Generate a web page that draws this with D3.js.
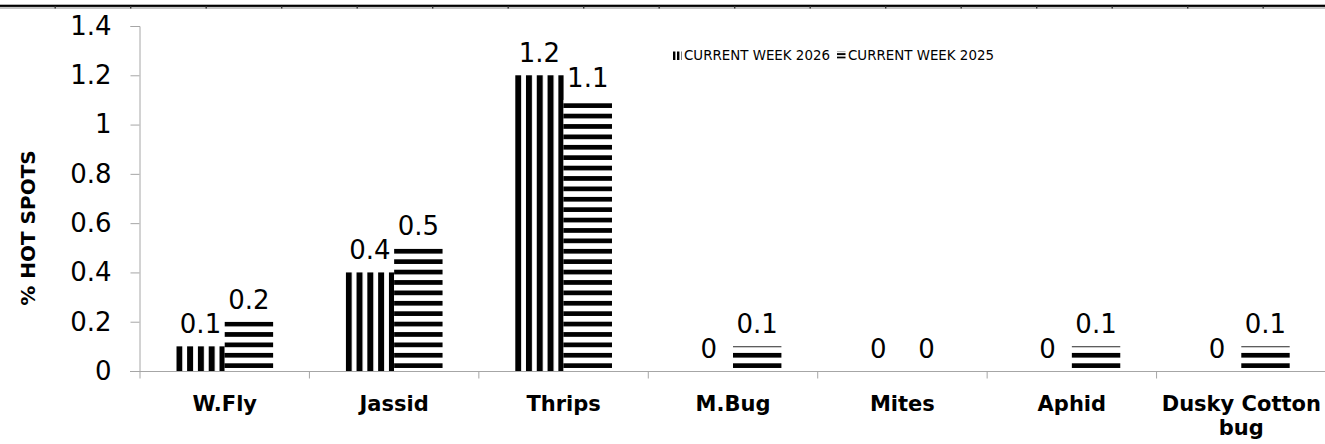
<!DOCTYPE html>
<html>
<head>
<meta charset="utf-8">
<script src="https://cdn.jsdelivr.net/npm/d3@7"></script>
<style>
  body { margin: 0; background: #fff; }
  svg { display: block; font-family: "DejaVu Sans", Verdana, sans-serif; }
</style>
</head>
<body>
<svg width="1325" height="444"></svg>
<script>
const categories = ["W.Fly", "Jassid", "Thrips", "M.Bug", "Mites", "Aphid", "Dusky Cotton bug"];
const week2026 = [0.1, 0.4, 1.2, 0, 0, 0, 0];
const week2025 = [0.2, 0.5, 1.1, 0.1, 0, 0.1, 0.1];
const yTicks = [0, 0.2, 0.4, 0.6, 0.8, 1, 1.2, 1.4];
const keys = ["CURRENT WEEK 2026", "CURRENT WEEK 2025"];

const svg = d3.select("svg");
const W = 1325;

const plot = { left: 140, right: 1326, top: 26, bottom: 371 };

const x0 = d3.scaleBand().domain(categories).range([plot.left, plot.right]).paddingInner(0).paddingOuter(0);
const x1 = d3.scaleBand().domain(keys).range([0, x0.bandwidth()]).paddingInner(0).paddingOuter(0.75);
const y = d3.scaleLinear().domain([0, 1.4]).range([plot.bottom, plot.top]);

const data = categories.map((c, i) => ({ cat: c, values: [week2026[i], week2025[i]] }));

// patterns
const defs = svg.append("defs");
const vp = defs.append("pattern").attr("id", "vert")
  .attr("patternUnits", "userSpaceOnUse").attr("width", 10.8).attr("height", 10);
vp.append("rect").attr("width", 10.8).attr("height", 10).attr("fill", "#fff");
vp.append("rect").attr("width", 6).attr("height", 10).attr("fill", "#000");

const hp = defs.append("pattern").attr("id", "horiz")
  .attr("patternUnits", "userSpaceOnUse").attr("width", 10).attr("height", 10.4)
  .attr("y", (plot.bottom - 7.7) % 10.4);
hp.append("rect").attr("width", 10).attr("height", 10.4).attr("fill", "#fff");
hp.append("rect").attr("width", 10).attr("height", 4.7).attr("fill", "#000");

const vpS = defs.append("pattern").attr("id", "vertSmall")
  .attr("patternUnits", "userSpaceOnUse").attr("width", 4).attr("height", 4);
vpS.append("rect").attr("width", 2.4).attr("height", 4).attr("fill", "#000");
const hpS = defs.append("pattern").attr("id", "horizSmall")
  .attr("patternUnits", "userSpaceOnUse").attr("width", 4).attr("height", 3.4);
hpS.append("rect").attr("width", 4).attr("height", 1.8).attr("fill", "#000");

const fills = ["url(#vert)", "url(#horiz)"];
const smallFills = ["url(#vertSmall)", "url(#horizSmall)"];

// top border decoration
svg.append("rect").attr("x", 0).attr("y", 4.7).attr("width", W).attr("height", 2.2).attr("fill", "#000");
svg.append("line").attr("x1", 0).attr("x2", W).attr("y1", 8).attr("y2", 8)
  .attr("stroke", "#b0b0b0").attr("stroke-width", 1.4);
d3.range(17).forEach(i => {
  svg.append("rect").attr("x", 54.5 + i * 75.5).attr("y", 6).attr("width", 1.4).attr("height", 2.5).attr("fill", "#333");
});

// y axis
const yAxis = svg.append("g")
  .attr("transform", `translate(${plot.left - 0.5},0)`)
  .call(d3.axisLeft(y).tickValues(yTicks).tickFormat(d3.format("~g")).tickSize(9).tickPadding(19));
yAxis.select(".domain").attr("stroke", "#a6a6a6");
yAxis.selectAll(".tick line").attr("stroke", "#a6a6a6");
yAxis.selectAll(".tick text").attr("font-size", 26).attr("fill", "#000")
  .attr("font-family", "DejaVu Sans, sans-serif");

// x axis
const xAxis = svg.append("g").attr("transform", `translate(0,${plot.bottom + 0.5})`);
xAxis.append("line").attr("x1", plot.left - 10).attr("x2", W).attr("stroke", "#a6a6a6");
categories.forEach(c => {
  xAxis.append("line").attr("x1", x0(c)).attr("x2", x0(c)).attr("y1", 0).attr("y2", 7).attr("stroke", "#a6a6a6");
});

// category labels
svg.append("g").selectAll("text")
  .data(categories)
  .enter()
  .append("text")
  .attr("x", d => x0(d) + x0.bandwidth() / 2)
  .attr("y", 411)
  .attr("text-anchor", "middle")
  .attr("font-weight", "bold")
  .attr("font-size", 21)
  .each(function(d) {
    const lines = d === "Dusky Cotton bug" ? ["Dusky Cotton", "bug"] : [d];
    lines.forEach((l, i) => {
      d3.select(this).append("tspan")
        .attr("x", x0(d) + x0.bandwidth() / 2)
        .attr("dy", i === 0 ? 0 : 24)
        .text(l);
    });
  });

// bars
const groups = svg.append("g").selectAll(".cat")
  .data(data)
  .enter()
  .append("g")
  .attr("class", "cat");

groups.each(function(d) {
  const g = d3.select(this);
  keys.forEach((k, i) => {
    const v = d.values[i];
    const bx = x0(d.cat) + x1(k);
    const bar = g.append("g").attr("transform", `translate(${bx},0)`);
    if (v > 0) {
      bar.append("rect")
        .attr("x", 0)
        .attr("y", y(v))
        .attr("width", x1.bandwidth())
        .attr("height", y(0) - y(v))
        .attr("fill", fills[i]);
    }
    bar.append("text")
      .attr("x", x1.bandwidth() / 2)
      .attr("y", y(v) - 13)
      .attr("text-anchor", "middle")
      .attr("font-size", 26)
      .text(d3.format("~g")(v));
  });
});

// y title
svg.append("text")
  .attr("transform", "translate(35,228) rotate(-90)")
  .attr("text-anchor", "middle")
  .attr("font-weight", "bold")
  .attr("font-size", 20)
  .text("% HOT SPOTS");

// legend
const legend = svg.append("g").attr("transform", "translate(673,60)");
const legendX = [0, 164];
keys.forEach((k, i) => {
  const item = legend.append("g").attr("transform", `translate(${legendX[i]},0)`);
  item.append("rect").attr("x", 0).attr("y", -8.5).attr("width", 8.5).attr("height", 8.5).attr("fill", smallFills[i]);
  item.append("text").attr("x", 11).attr("y", 0).attr("font-size", 13.4).text(k);
});
</script>
</body>
</html>
